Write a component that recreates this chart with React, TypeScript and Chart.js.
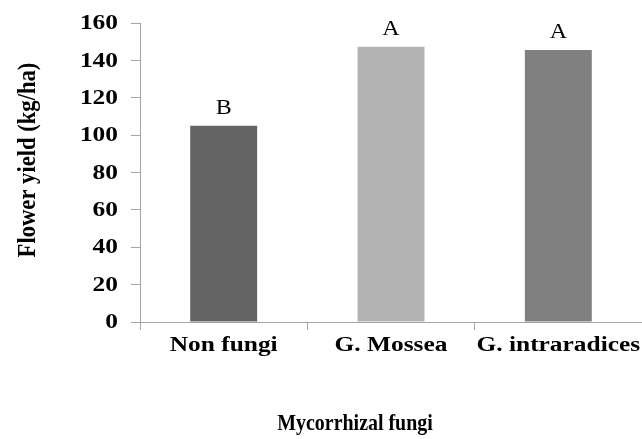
import React, { useEffect, useRef } from "react";
import { Chart, registerables } from "chart.js";

Chart.register(...registerables);

const categories = ["Non fungi", "G. Mossea", "G. intraradices"];
const flowerYield = [105, 147.3, 145.5];
const letters = ["B", "A", "A"];
const barColors = ["#646464", "#b3b3b3", "#808080"];
const yTicks = [0, 20, 40, 60, 80, 100, 120, 140, 160];
const xTitle = "Mycorrhizal fungi";
const yTitle = "Flower yield (kg/ha)";

const SERIF = '"Liberation Serif", "Times New Roman", serif';

function drawScaled(
  ctx: CanvasRenderingContext2D,
  text: string,
  x: number,
  y: number,
  sx: number,
  font: string,
  align: CanvasTextAlign,
  baseline: CanvasTextBaseline,
  rot = 0
) {
  ctx.save();
  ctx.translate(x, y);
  if (rot) ctx.rotate(rot);
  ctx.scale(sx, 1);
  ctx.font = font;
  ctx.textAlign = align;
  ctx.textBaseline = baseline;
  ctx.fillStyle = "#000";
  ctx.fillText(text, 0, 0);
  ctx.restore();
}

const textPlugin = {
  id: "textPlugin",
  afterDraw(chart: any) {
    const ctx: CanvasRenderingContext2D = chart.ctx;
    const xs = chart.scales.x;
    const ys = chart.scales.y;
    yTicks.forEach((v) => {
      const y = ys.getPixelForValue(v);
      drawScaled(ctx, String(v), 118, y + 1, 1.27, `bold 20px ${SERIF}`, "right", "middle");
    });
    categories.forEach((c, i) => {
      const x = xs.getPixelForValue(i);
      drawScaled(ctx, c, x, 346, 1.27, `bold 20px ${SERIF}`, "center", "middle");
    });
    const meta = chart.getDatasetMeta(0);
    meta.data.forEach((el: any, i: number) => {
      drawScaled(ctx, letters[i], el.x, el.y - 12, 1.2, `20px ${SERIF}`, "center", "alphabetic");
    });
    drawScaled(ctx, xTitle, 355, 430, 0.83, `bold 24px ${SERIF}`, "center", "alphabetic");
    drawScaled(ctx, yTitle, 35, 160, 0.87, `bold 26px ${SERIF}`, "center", "alphabetic", -Math.PI / 2);
  },
};

export default function App() {
  const ref = useRef<HTMLCanvasElement | null>(null);
  useEffect(() => {
    if (!ref.current) return;
    const axisColor = "#a6a6a6";
    const chart = new Chart(ref.current, {
      type: "bar",
      data: {
        labels: categories,
        datasets: [
          {
            data: flowerYield,
            backgroundColor: barColors,
            borderWidth: 0,
            categoryPercentage: 1,
            barPercentage: 0.4,
          },
        ],
      },
      options: {
        responsive: false,
        animation: false,
        layout: { padding: { top: 23, left: 0, right: 0, bottom: 0 } },
        plugins: { legend: { display: false }, tooltip: { enabled: false } },
        scales: {
          x: {
            offset: true,
            grid: { offset: true, drawOnChartArea: false, drawTicks: true, tickLength: 8, color: axisColor },
            border: { color: axisColor, width: 1 },
            ticks: { display: false },
            afterFit(scale: any) {
              scale.height = 117;
              scale.paddingLeft = 0;
              scale.paddingRight = 0;
            },
          },
          y: {
            min: 0,
            max: 160,
            ticks: { display: false, stepSize: 20 },
            grid: { drawOnChartArea: false, drawTicks: true, tickLength: 9, color: axisColor },
            border: { color: axisColor, width: 1 },
            afterFit(scale: any) {
              scale.width = 140;
              scale.paddingTop = 0;
              scale.paddingBottom = 0;
            },
          },
        },
      },
      plugins: [textPlugin],
    });
    return () => chart.destroy();
  }, []);
  return (
    <div style={{ position: "fixed", left: 0, top: 0, width: 642, height: 439, background: "#fff" }}>
      <canvas ref={ref} width={642} height={439} style={{ width: 642, height: 439 }} />
    </div>
  );
}
